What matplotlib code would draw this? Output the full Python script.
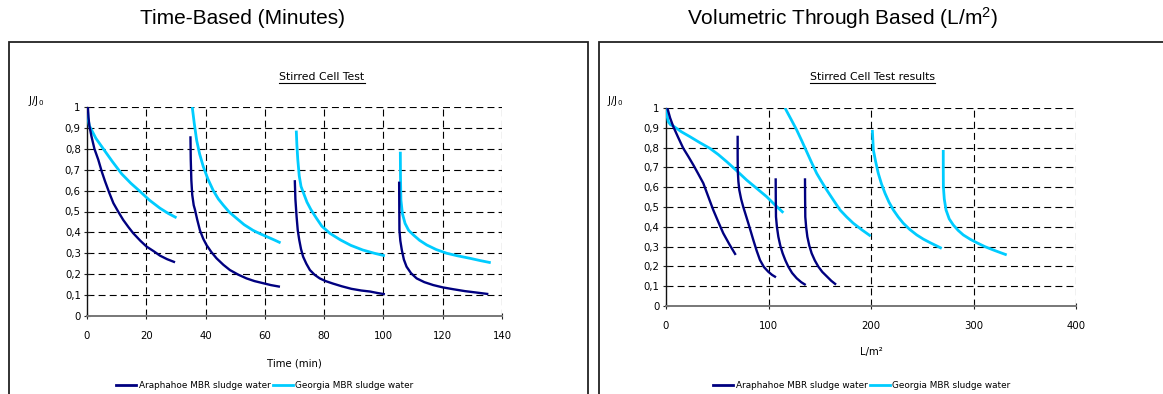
import matplotlib
matplotlib.use("Agg")
import matplotlib.pyplot as plt
from matplotlib.patches import Rectangle
from matplotlib.lines import Line2D

plt.rcParams['font.family'] = ['DejaVu Sans']
plt.rcParams['mathtext.default'] = 'regular'
plt.rcParams['lines.scale_dashes'] = False

NAVY = '#000080'
CYAN = '#00CCFF'

# ---- Time-based data (minutes vs J/J0), one list per filtration run ----
arap_time_t = [
    [0.3, 0.5, 0.8, 1.5, 2.5, 3.8, 5.0, 6.1, 7.5, 8.9, 10.5, 12.2, 14.0, 15.6, 18.0,
     20.1, 22.5, 24.6, 27.0, 29.7],
    [34.9, 35.0, 35.2, 35.5, 36.0, 36.4, 37.2, 38.1, 39.2, 40.3, 42.0, 43.7, 46.0, 48.2,
     51.0, 53.8, 56.5, 59.4, 62.0, 65.1],
    [70.1, 70.3, 70.7, 71.1, 71.6, 72.2, 72.9, 74.0, 75.2, 76.8, 78.5, 80.5, 83.0, 86.0,
     89.2, 92.5, 95.5, 98.0, 100.5],
    [105.3, 105.35, 105.4, 105.7, 106.2, 106.9, 107.8, 109.3, 111.2, 113.8, 116.8, 120.0,
     123.6, 127.5, 131.5, 135.4],
]
arap_time_j = [
    [1.0, 0.95, 0.91, 0.86, 0.80, 0.748, 0.69, 0.644, 0.59, 0.54, 0.50, 0.46, 0.425, 0.396,
     0.36, 0.332, 0.31, 0.289, 0.272, 0.257],
    [0.86, 0.75, 0.65, 0.58, 0.53, 0.51, 0.46, 0.41, 0.37, 0.34, 0.305, 0.276, 0.245, 0.22,
     0.198, 0.18, 0.167, 0.157, 0.148, 0.14],
    [0.65, 0.56, 0.476, 0.41, 0.364, 0.32, 0.284, 0.25, 0.22, 0.197, 0.18, 0.167, 0.155,
     0.142, 0.13, 0.122, 0.117, 0.11, 0.104],
    [0.643, 0.52, 0.41, 0.36, 0.316, 0.27, 0.236, 0.205, 0.18, 0.162, 0.148, 0.137, 0.128,
     0.119, 0.112, 0.105],
]
geo_time_t = [
    [0.1, 0.4, 0.8, 3.0, 5.5, 8.5, 11.7, 14.8, 17.9, 21.0, 24.6, 27.5, 30.2],
    [35.5, 36.2, 37.0, 38.0, 39.2, 40.8, 42.6, 44.3, 46.0, 48.0, 50.4, 53.0, 56.0, 58.3,
     60.6, 63.0, 65.3],
    [70.6, 70.8, 71.1, 71.6, 72.2, 73.0, 74.2, 75.5, 77.3, 79.2, 82.0, 85.5, 89.0, 93.0,
     97.0, 100.5],
    [105.7, 105.75, 105.9, 106.4, 107.3, 108.5, 110.1, 112.2, 114.6, 117.8, 121.4, 125.0,
     129.2, 132.7, 136.2],
]
geo_time_j = [
    [1.0, 0.94, 0.91, 0.85, 0.80, 0.74, 0.68, 0.635, 0.596, 0.555, 0.516, 0.49, 0.47],
    [1.0, 0.92, 0.84, 0.775, 0.716, 0.655, 0.60, 0.56, 0.53, 0.497, 0.468, 0.437, 0.41,
     0.394, 0.38, 0.365, 0.35],
    [0.887, 0.82, 0.75, 0.67, 0.62, 0.59, 0.545, 0.51, 0.47, 0.43, 0.395, 0.364, 0.338,
     0.316, 0.30, 0.288],
    [0.786, 0.67, 0.555, 0.49, 0.443, 0.41, 0.388, 0.362, 0.34, 0.318, 0.30, 0.288, 0.276,
     0.265, 0.255],
]

# ---- Volumetric data (L/m2 vs J/J0) ----
arap_vol_v = [
    [1.3, 4.0, 7.1, 12.0, 16.9, 21.8, 26.7, 31.5, 36.4, 41.2, 46.1, 51.0, 55.9, 62.0, 68.0],
    [69.9, 69.9, 70.0, 70.6, 71.5, 73.3, 75.4, 77.8, 80.3, 82.8, 85.2, 88.4, 91.7, 95.5,
     99.8, 103.5, 107.3],
    [107.0, 107.1, 107.3, 108.2, 109.6, 111.5, 113.8, 116.5, 119.3, 123.0, 127.5, 132.0,
     136.3],
    [135.6, 135.7, 135.9, 136.7, 137.9, 139.8, 142.1, 145.2, 148.6, 152.5, 156.8, 161.3,
     165.9],
]
arap_vol_j = [
    [1.0, 0.95, 0.906, 0.85, 0.796, 0.755, 0.712, 0.667, 0.62, 0.553, 0.485, 0.425, 0.367,
     0.31, 0.258],
    [0.86, 0.77, 0.687, 0.63, 0.586, 0.54, 0.50, 0.46, 0.418, 0.375, 0.333, 0.28, 0.232,
     0.197, 0.173, 0.157, 0.145],
    [0.645, 0.55, 0.451, 0.40, 0.35, 0.305, 0.266, 0.23, 0.199, 0.167, 0.14, 0.12, 0.106],
    [0.645, 0.55, 0.45, 0.40, 0.35, 0.305, 0.266, 0.23, 0.199, 0.172, 0.15, 0.127, 0.108],
]
geo_vol_v = [
    [0.0, 1.0, 2.3, 4.5, 7.1, 15.0, 23.4, 33.0, 42.9, 51.0, 59.2, 69.0, 78.7, 88.5, 98.2,
     106.0, 114.5],
    [116.1, 121.8, 127.5, 132.4, 137.2, 142.0, 147.0, 151.9, 156.8, 163.3, 169.8, 176.2,
     182.7, 191.0, 199.7],
    [201.3, 201.8, 202.3, 204.5, 207.1, 210.2, 213.7, 217.5, 221.8, 226.5, 231.5, 237.7,
     244.6, 251.0, 257.6, 263.5, 269.0],
    [270.5, 270.5, 270.6, 271.5, 273.2, 276.3, 280.3, 285.0, 290.0, 296.5, 303.1, 311.0,
     319.3, 326.0, 332.4],
]
geo_vol_j = [
    [1.0, 0.96, 0.93, 0.915, 0.909, 0.88, 0.855, 0.825, 0.796, 0.765, 0.729, 0.683, 0.636,
     0.594, 0.552, 0.512, 0.471],
    [1.0, 0.945, 0.889, 0.835, 0.78, 0.725, 0.67, 0.627, 0.586, 0.535, 0.485, 0.45, 0.418,
     0.385, 0.353],
    [0.889, 0.84, 0.788, 0.73, 0.67, 0.617, 0.569, 0.525, 0.485, 0.45, 0.418, 0.387, 0.359,
     0.338, 0.32, 0.305, 0.291],
    [0.788, 0.70, 0.603, 0.54, 0.485, 0.44, 0.409, 0.382, 0.359, 0.338, 0.32, 0.30, 0.283,
     0.27, 0.258],
]

y_ticks = [0, 0.1, 0.2, 0.3, 0.4, 0.5, 0.6, 0.7, 0.8, 0.9, 1.0]
y_tick_labels = ['0', '0,1', '0,2', '0,3', '0,4', '0,5', '0,6', '0,7', '0,8', '0,9', '1']
time_ticks = [0, 20, 40, 60, 80, 100, 120, 140]
vol_ticks = [0, 100, 200, 300, 400]

series_names = ['Araphahoe MBR sludge water', 'Georgia MBR sludge water']

W, H = 1163, 394
fig = plt.figure(figsize=(W / 100, H / 100), dpi=100)


def px_box(x0, y0, x1, y1):
    """Figure-fraction rect from pixel coordinates (top-left origin)."""
    return [x0 / W, 1 - y1 / H, (x1 - x0) / W, (y1 - y0) / H]


# panel frames
for (bx0, bx1) in [(9, 588), (599, 1175)]:
    fig.add_artist(Rectangle((bx0 / W, -0.05), (bx1 - bx0) / W, 1 - 42 / H + 0.05,
                             transform=fig.transFigure, fill=False,
                             edgecolor='#222222', linewidth=1.3))

# top headings
fig.text(243 / W, 1 - 18 / H, 'Time-Based (Minutes)', ha='center', va='center',
         fontsize=15, family='Liberation Sans')
fig.text(843 / W, 1 - 18 / H, 'Volumetric Through Based (L/m$^2$)', ha='center',
         va='center', fontsize=15, family='Liberation Sans')

ax1 = fig.add_axes(px_box(87, 107, 502, 316))
ax2 = fig.add_axes(px_box(666, 108, 1076, 306))

panels = [
    (ax1, arap_time_t, arap_time_j, geo_time_t, geo_time_j, time_ticks, (0, 140),
     'Stirred Cell Test', 'Time (min)', 13),
    (ax2, arap_vol_v, arap_vol_j, geo_vol_v, geo_vol_j, vol_ticks, (0, 400),
     'Stirred Cell Test results', 'L/m\u00b2', 12),
]

fs = 7.3
for ax, ax_x, ax_y, gx, gy, xt, xl, ttl, xlab, lpad in panels:
    for i, (xs, ys) in enumerate(zip(gx, gy)):
        ax.plot(xs, ys, color=CYAN, lw=2.0, solid_capstyle='butt',
                solid_joinstyle='round',
                label=series_names[1] if i == 0 else None, zorder=3)
    for i, (xs, ys) in enumerate(zip(ax_x, ax_y)):
        ax.plot(xs, ys, color=NAVY, lw=1.7, solid_capstyle='butt',
                solid_joinstyle='round',
                label=series_names[0] if i == 0 else None, zorder=4)
    ax.set_xlim(*xl)
    ax.set_ylim(0, 1)
    ax.set_xticks(xt)
    ax.set_yticks(y_ticks)
    ax.set_yticklabels(y_tick_labels)
    ax.tick_params(direction='inout', length=5, width=0.8, labelsize=fs, pad=2,
                   color='#222222')
    ax.tick_params(axis='x', pad=8)
    for s in ('top', 'right'):
        ax.spines[s].set_visible(False)
    ax.spines['left'].set_color('#111111')
    ax.spines['bottom'].set_color('#777777')
    ax.spines['left'].set_linewidth(1.0)
    ax.spines['bottom'].set_linewidth(1.4)
    for yv in y_ticks[1:]:
        ax.axhline(yv, color='black', lw=0.8, ls=(0, (5, 3)), zorder=1)
    for xv in xt[1:]:
        ax.axvline(xv, color='black', lw=0.8, ls=(0, (5, 3)), zorder=1)
    ax.set_xlabel(xlab, fontsize=fs, labelpad=lpad)
    ax.set_facecolor('none')
    for sp in ax.spines.values():
        sp.set_zorder(2)

# in-panel titles, y labels, legends
t1 = fig.text(322 / W, 1 - 77 / H, 'Stirred Cell Test', ha='center', va='center',
              fontsize=7.8)
t2 = fig.text(872 / W, 1 - 77 / H, 'Stirred Cell Test results', ha='center', va='center',
              fontsize=7.8)
fig.text(36 / W, 1 - 101 / H, 'J/J$_0$', ha='center', va='center', fontsize=fs)
fig.text(615 / W, 1 - 101 / H, 'J/J$_0$', ha='center', va='center', fontsize=fs)

handles = [Line2D([], [], color=NAVY, lw=2), Line2D([], [], color=CYAN, lw=2)]
for cx in (265, 862):
    fig.legend(handles, series_names, loc='center', bbox_to_anchor=(cx / W, 1 - 386 / H),
               ncol=2, frameon=False, fontsize=6.4, handlelength=2.2, handletextpad=0.3,
               columnspacing=0.3, borderaxespad=0)

# underline the in-panel titles
fig.canvas.draw()
r = fig.canvas.get_renderer()
for t in (t1, t2):
    bb = t.get_window_extent(r)
    yy = bb.y0 - 1
    fig.add_artist(Line2D([bb.x0 / W, bb.x1 / W], [yy / H, yy / H],
                          transform=fig.transFigure, color='black', lw=0.8))

fig.savefig('out.png', dpi=100)
